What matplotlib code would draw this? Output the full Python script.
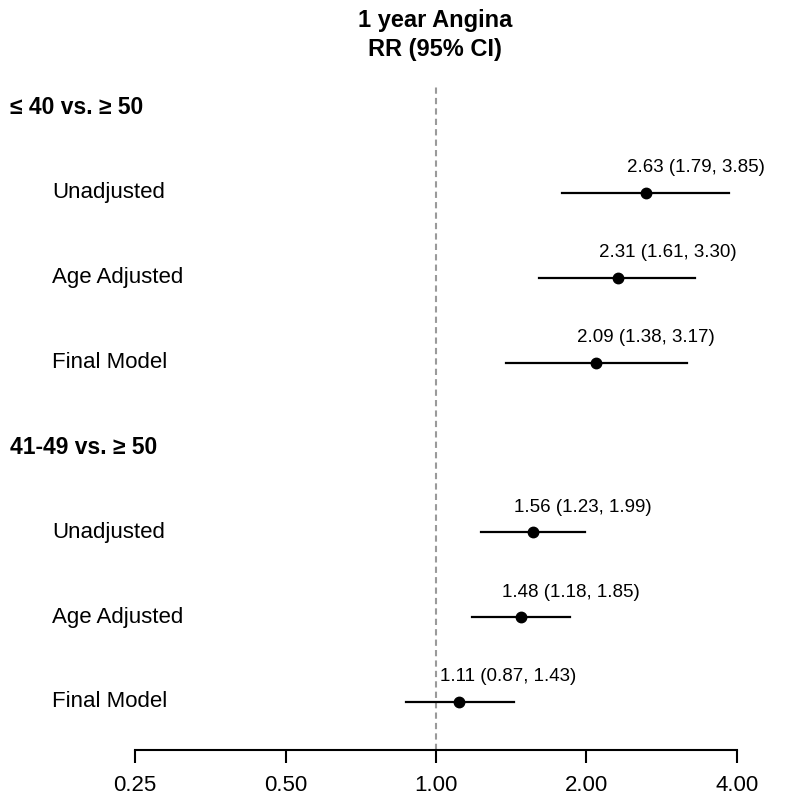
import matplotlib
matplotlib.use("Agg")
import matplotlib.pyplot as plt
import matplotlib.transforms as mtransforms

plt.rcParams["font.family"] = ["Liberation Sans", "DejaVu Sans"]

# two groups of three models each
groups = ["\u2264 40 vs. \u2265 50", "41-49 vs. \u2265 50"]
row_labels = ["Unadjusted", "Age Adjusted", "Final Model"]
rr = [2.63, 2.31, 2.09, 1.56, 1.48, 1.11]
ci_low = [1.79, 1.61, 1.38, 1.23, 1.18, 0.87]
ci_high = [3.85, 3.30, 3.17, 1.99, 1.85, 1.43]
ticks = [0.25, 0.5, 1.0, 2.0, 4.0]
tick_labels = ["0.25", "0.50", "1.00", "2.00", "4.00"]

W, H = 800, 801
fig = plt.figure(figsize=(W / 100, H / 100), dpi=100)
ax = fig.add_axes([135 / W, (H - 750) / H, (737 - 135) / W, (750 - 85) / H])

ax.set_xscale("log", base=2)
ax.set_xlim(0.25, 4.0)
ax.set_ylim(7.566, -0.271)

ax.axvline(1.0, color="#9a9a9a", lw=1.5, dashes=(3, 2), zorder=1)

label_tf = mtransforms.blended_transform_factory(fig.transFigure, ax.transData)

pos = 0
for g, name in enumerate(groups):
    ax.text(10 / W, pos, name, transform=label_tf, fontsize=16.5, fontweight="bold",
            ha="left", va="center")
    pos += 1
    for k, lab in enumerate(row_labels):
        i = g * 3 + k
        ax.text(52 / W, pos, lab, transform=label_tf, fontsize=16, ha="left", va="center")
        ax.plot([ci_low[i], ci_high[i]], [pos, pos], color="black", lw=1.6, zorder=2)
        ax.plot(rr[i], pos, "o", color="black", ms=7.5, zorder=3)
        ax.annotate(f"{rr[i]:.2f} ({ci_low[i]:.2f}, {ci_high[i]:.2f})", (rr[i], pos),
                    xytext=(-19, 25), textcoords="offset pixels", fontsize=13.5,
                    ha="left", va="center")
        pos += 1

for s in ["top", "right", "left"]:
    ax.spines[s].set_visible(False)
ax.spines["bottom"].set_linewidth(1.5)
ax.set_yticks([])
ax.set_xticks(ticks)
ax.set_xticklabels(tick_labels)
ax.xaxis.set_minor_locator(matplotlib.ticker.NullLocator())
ax.tick_params(axis="x", length=9, width=1.5, labelsize=16, pad=9)

fig.text(435 / W, 1 - 35 / H, "1 year Angina\nRR (95% CI)", ha="center", va="center",
         fontsize=17, fontweight="bold", linespacing=1.3)

fig.savefig("out.png", dpi=100)
